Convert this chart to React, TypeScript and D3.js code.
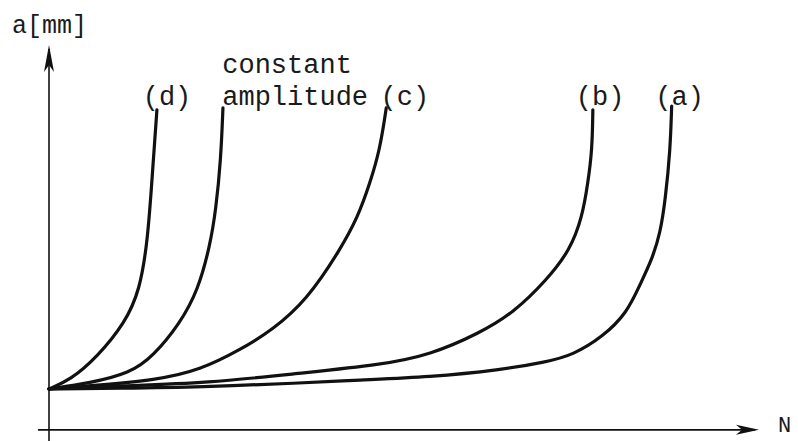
import React from "react";
import * as d3 from "d3";

// Crack length a versus number of cycles N (normalised units 0..100)
const curveD: [number, number][] = [
  [0, 10.9], [3.0, 13.2], [6.8, 19.2], [10.7, 28.0], [12.8, 36.5],
  [13.9, 49.5], [14.5, 65.0], [14.9, 75.4], [15.2, 83.2],
];
const curveConst: [number, number][] = [
  [0, 10.9], [5.8, 12.4], [11.4, 15.0], [14.6, 19.2], [18.5, 28.0],
  [21.0, 36.5], [22.7, 48.2], [23.5, 57.3], [24.2, 70.2], [24.5, 83.7],
];
const curveC: [number, number][] = [
  [0, 10.9], [5.8, 11.7], [15.2, 13.2], [21.3, 15.8], [26.9, 21.0],
  [31.5, 26.2], [36.3, 33.9], [41.0, 46.9], [43.5, 55.4], [45.2, 64.2],
  [46.6, 72.8], [47.5, 83.7],
];
const curveB: [number, number][] = [
  [0, 10.9], [10.0, 11.7], [22.3, 12.4], [35.4, 15.0], [46.6, 17.1],
  [53.7, 19.7], [60.7, 25.4], [65.4, 30.6], [70.1, 39.1], [73.4, 46.9],
  [75.1, 55.4], [75.9, 64.2], [76.5, 72.8], [76.6, 83.2],
];
const curveA: [number, number][] = [
  [0, 10.9], [10.0, 11.1], [21.3, 11.4], [35.4, 12.4], [43.4, 13.2],
  [53.7, 14.0], [63.5, 15.8], [70.1, 17.9], [73.8, 19.7], [78.0, 24.4],
  [81.4, 30.6], [83.2, 37.8], [84.9, 44.3], [86.1, 51.3], [86.8, 59.8],
  [87.5, 72.8], [87.7, 84.2],
];

const curves = [curveD, curveConst, curveC, curveB, curveA];

// Curve labels: text, anchor in data units
const labels: { text: string; n: number; a: number }[] = [
  { text: "(d)", n: 13.2, a: 84.5 },
  { text: "constant", n: 24.4, a: 92.7 },
  { text: "amplitude", n: 24.4, a: 84.5 },
  { text: "(c)", n: 46.7, a: 84.5 },
  { text: "(b)", n: 74.2, a: 84.5 },
  { text: "(a)", n: 85.4, a: 84.5 },
];

const W = 798;
const H = 441;

const x = d3.scaleLinear().domain([0, 100]).range([49, 759]);
const y = d3.scaleLinear().domain([0, 100]).range([431, 45]);

const line = d3
  .line<[number, number]>()
  .x((d) => x(d[0]))
  .y((d) => y(d[1]))
  .curve(d3.curveBasis);

const FONT = "'Liberation Mono', 'Courier New', monospace";

export default function App() {
  const x0 = x(0);
  const yAxis = y(0.3);
  const yTop = y(100);
  const xEnd = x(100);

  // narrow notched arrowheads
  const upHead = `M${x0},${yTop} L${x0 - 5},${yTop + 27} L${x0},${yTop + 20} L${x0 + 5},${yTop + 27} Z`;
  const rightHead = `M${xEnd},${yAxis} L${xEnd - 23},${yAxis - 5} L${xEnd - 17},${yAxis} L${xEnd - 23},${yAxis + 5} Z`;

  return (
    <svg
      width={W}
      height={H}
      viewBox={`0 0 ${W} ${H}`}
      style={{ position: "absolute", left: 0, top: 0, background: "#fff" }}
    >
      <rect width={W} height={H} fill="#fff" />
      {/* axes */}
      <line x1={x0} y1={H} x2={x0} y2={yTop + 4} stroke="#111" strokeWidth={1.6} />
      <line x1={x(-1.55)} y1={yAxis} x2={xEnd - 4} y2={yAxis} stroke="#111" strokeWidth={1.6} />
      <path d={upHead} fill="#111" />
      <path d={rightHead} fill="#111" />

      {/* curves */}
      {curves.map((c, i) => (
        <path
          key={i}
          d={line(c) ?? ""}
          fill="none"
          stroke="#111"
          strokeWidth={3.2}
          strokeLinecap="round"
        />
      ))}

      {/* text */}
      <text x={12} y={33} fontFamily={FONT} fontSize={25} fill="#1a1a1a">
        a[mm]
      </text>
      <text x={778} y={432} fontFamily={FONT} fontSize={22} fill="#1a1a1a">
        N
      </text>
      {labels.map((l, i) => (
        <text
          key={i}
          x={x(l.n)}
          y={y(l.a)}
          fontFamily={FONT}
          fontSize={27}
          fill="#1a1a1a"
        >
          {l.text}
        </text>
      ))}
    </svg>
  );
}
